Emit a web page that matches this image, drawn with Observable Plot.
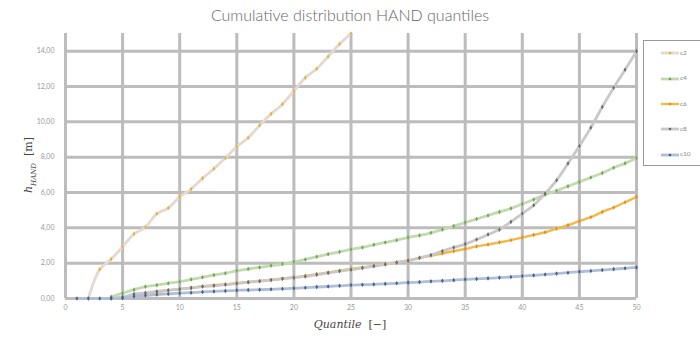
<!DOCTYPE html>
<html><head><meta charset="utf-8">
<script src="https://cdn.jsdelivr.net/npm/d3@7"></script>
<script src="https://cdn.jsdelivr.net/npm/@observablehq/plot@0.6"></script>
<style>
body{margin:0;background:#fff;}
#wrap{position:relative;width:700px;height:338px;overflow:hidden;font-family:Lato,"Open Sans",sans-serif;}
#title{position:absolute;left:0;width:700px;top:5px;text-align:center;font-size:16px;font-weight:300;color:#666;}
#ylab{position:absolute;left:30px;top:165px;transform:translate(-50%,-50%) rotate(-90deg);white-space:nowrap;font-family:"DejaVu Serif",serif;font-style:italic;font-size:11px;color:#444;}
#ylab sub{font-size:7px;}
#xlab{position:absolute;left:350px;top:318px;transform:translateX(-50%);white-space:nowrap;font-family:"DejaVu Serif",serif;font-style:italic;font-size:11px;color:#444;}
#legend{position:absolute;left:643px;top:40px;width:70px;height:126px;border:1px solid #999;box-sizing:border-box;background:#fff;}
.li{position:absolute;left:16px;height:10px;font-size:6.5px;color:#888;}
.li svg{vertical-align:middle;}
</style></head>
<body><div id="wrap"></div>
<script>
const quantiles = d3.range(1, 51);
const seriesNames = ["c2", "c4", "c6", "c8", "c10"];
const N = null;
const c2 = [N,0,1.65,2.23,2.93,3.66,4.05,4.8,5.12,5.75,6.2,6.8,7.35,7.95,8.6,9.1,9.8,10.45,11.0,11.75,12.5,13.0,13.7,14.4,15.0,
  N,N,N,N,N,N,N,N,N,N,N,N,N,N,N,N,N,N,N,N,N,N,N,N,N];
const c4 = [N,N,N,0.1,0.3,0.5,0.67,0.76,0.86,0.95,1.08,1.2,1.33,1.43,1.57,1.67,1.76,1.86,1.95,2.08,2.21,2.36,2.51,2.64,2.78,
  2.89,3.04,3.17,3.3,3.45,3.57,3.72,3.9,4.1,4.3,4.5,4.7,4.9,5.1,5.35,5.6,5.88,6.1,6.35,6.6,6.85,7.1,7.4,7.65,7.95];
const c6 = [N,N,N,0.02,0.05,0.2,0.28,0.35,0.45,0.53,0.6,0.68,0.75,0.8,0.87,0.93,0.99,1.05,1.12,1.2,1.28,1.38,1.47,1.57,1.67,
  1.76,1.85,1.95,2.05,2.15,2.3,2.42,2.55,2.68,2.8,2.95,3.05,3.18,3.3,3.45,3.6,3.75,3.95,4.15,4.38,4.6,4.9,5.15,5.45,5.75];
const c8 = [N,N,N,0.03,0.08,0.25,0.32,0.4,0.47,0.53,0.6,0.68,0.72,0.78,0.85,0.92,0.98,1.05,1.12,1.18,1.25,1.35,1.45,1.55,1.63,
  1.73,1.83,1.93,2.03,2.14,2.3,2.46,2.68,2.89,3.08,3.34,3.62,3.9,4.34,4.81,5.28,5.94,6.69,7.64,8.63,9.67,10.84,11.93,12.95,14.0];
const c10 = [0,0,0,0,0.02,0.12,0.17,0.22,0.26,0.3,0.33,0.37,0.4,0.43,0.46,0.48,0.5,0.52,0.55,0.58,0.61,0.65,0.68,0.72,0.76,
  0.78,0.8,0.83,0.86,0.9,0.93,0.97,1.0,1.04,1.08,1.11,1.14,1.18,1.22,1.27,1.31,1.36,1.41,1.46,1.52,1.56,1.61,1.66,1.71,1.76];
const xTicks = [0,5,10,15,20,25,30,35,40,45,50];
const yTicks = [0,2,4,6,8,10,12,14];
const lineColors = ["#e6d8ce","#c3d9b3","#f2ba45","#c8c8c8","#b0bfd6"];
const dotColors = ["#e2b436","#6fa848","#e58a2e","#6a6a6a","#3f5f8f"];
const lineWidths = [2.8,2.8,2.4,2.8,2.8];

const allSeries = [c2, c4, c6, c8, c10];
const data = [];
seriesNames.forEach((s, i) => {
  quantiles.forEach((q, j) => {
    const v = allSeries[i][j];
    if (v !== null) data.push({series: s, q, v});
  });
});

const marks = [
  Plot.gridX(xTicks, {stroke: "#bcbcbc", strokeOpacity: 1, strokeWidth: 3, y1: 0, y2: 15}),
  Plot.gridY(yTicks, {stroke: "#bcbcbc", strokeOpacity: 1, strokeWidth: 3}),
  Plot.axisX(xTicks, {tickSize: 0, tickPadding: 7, fontSize: 7, fill: "#999", label: null}),
  Plot.axisY(yTicks, {tickSize: 0, tickPadding: 11, fontSize: 7, fill: "#999", label: null,
    tickFormat: d => d.toFixed(2).replace(".", ",")})
];
seriesNames.forEach((s, i) => {
  const d = data.filter(r => r.series === s);
  marks.push(Plot.line(d, {x: "q", y: "v", stroke: lineColors[i], strokeWidth: lineWidths[i], curve: "catmull-rom"}));
});
seriesNames.forEach((s, i) => {
  const d = data.filter(r => r.series === s);
  marks.push(Plot.dot(d, {x: "q", y: "v", fill: dotColors[i], r: 1.4, symbol: "diamond"}));
});

const chart = Plot.plot({
  width: 700, height: 338,
  marginLeft: 65, marginRight: 64, marginTop: 33, marginBottom: 40,
  x: {domain: [0, 50]},
  y: {domain: [0, 15]},
  style: {background: "white", fontFamily: "Lato, sans-serif"},
  marks
});
const wrap = document.getElementById("wrap");
wrap.appendChild(chart);

const title = document.createElement("div");
title.id = "title"; title.textContent = "Cumulative distribution HAND quantiles";
wrap.appendChild(title);
const ylab = document.createElement("div");
ylab.id = "ylab"; ylab.innerHTML = "h<sub>HAND</sub>&nbsp;&nbsp;<span style='font-style:normal'>[m]</span>";
wrap.appendChild(ylab);
const xlab = document.createElement("div");
xlab.id = "xlab"; xlab.innerHTML = "Quantile&nbsp;&nbsp;<span style='font-style:normal'>[−]</span>";
wrap.appendChild(xlab);

const legend = document.createElement("div");
legend.id = "legend";
seriesNames.forEach((s, i) => {
  const it = document.createElement("div");
  it.className = "li";
  it.style.top = (8 + i * 25.3) + "px";
  it.innerHTML = `<svg width="20" height="6"><line x1="1" x2="19" y1="3" y2="3" stroke="${lineColors[i]}" stroke-width="${lineWidths[i]}"/><circle cx="10" cy="3" r="1.3" fill="${dotColors[i]}"/></svg>${s}`;
  legend.appendChild(it);
});
wrap.appendChild(legend);
</script></body></html>
